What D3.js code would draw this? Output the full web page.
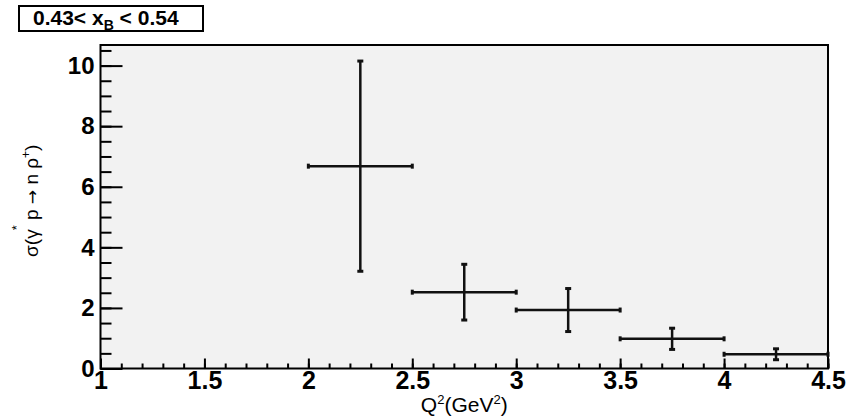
<!DOCTYPE html>
<html>
<head>
<meta charset="utf-8">
<script src="https://cdn.jsdelivr.net/npm/d3@7/dist/d3.min.js"></script>
<style>
  html, body { margin: 0; padding: 0; background: #fff; }
  svg { display: block; }
  text { font-family: "Liberation Sans", Arial, Helvetica, sans-serif; }
</style>
</head>
<body>
<svg id="chart" width="862" height="418"></svg>
<script>
// ---- data ----
const binCenters = [2.25, 2.75, 3.25, 3.75, 4.25];
const binHalfWidths = [0.25, 0.25, 0.25, 0.25, 0.25];
const sigmaValues = [6.68, 2.52, 1.93, 0.98, 0.47];
const sigmaErrors = [3.47, 0.92, 0.71, 0.35, 0.18];
const xDomain = [1, 4.5];
const yDomain = [0, 10.68];
const xMajorTicks = [1, 1.5, 2, 2.5, 3, 3.5, 4, 4.5];
const yMajorTicks = [0, 2, 4, 6, 8, 10];
const rangeLabel = ["0.43< x", "B", " < 0.54"];

const points = binCenters.map((xv, i) => ({
  x: xv, hw: binHalfWidths[i], y: sigmaValues[i], e: sigmaErrors[i]
}));

const svg = d3.select("#chart");
const mLeft = 100.5, mRight = 828, mTop = 45, mBottom = 368.5;

const x = d3.scaleLinear().domain(xDomain).range([mLeft, mRight]);
const y = d3.scaleLinear().domain(yDomain).range([mBottom, mTop]);

// frame background
svg.append("rect")
  .attr("x", mLeft).attr("y", mTop)
  .attr("width", mRight - mLeft).attr("height", mBottom - mTop)
  .attr("fill", "#f2f2f2");

// minor ticks
const xMinor = d3.range(0, 36).map(i => +(xDomain[0] + i * 0.1).toFixed(2));
const yMinor = d3.range(0, 22).map(i => i * 0.5).filter(v => v <= yDomain[1]);

const xMinorAxis = d3.axisBottom(x).tickValues(xMinor).tickFormat("").tickSizeInner(-5).tickSizeOuter(0);
const yMinorAxis = d3.axisLeft(y).tickValues(yMinor).tickFormat("").tickSizeInner(-11).tickSizeOuter(0);

const gxm = svg.append("g").attr("transform", `translate(0,${mBottom})`).call(xMinorAxis);
const gym = svg.append("g").attr("transform", `translate(${mLeft},0)`).call(yMinorAxis);

// major ticks + labels
const xAxis = d3.axisBottom(x).tickValues(xMajorTicks).tickFormat(d3.format("")).tickSizeInner(-10).tickSizeOuter(0).tickPadding(3);
const yAxis = d3.axisLeft(y).tickValues(yMajorTicks).tickFormat(d3.format("")).tickSizeInner(-22).tickSizeOuter(0).tickPadding(6);

const gx = svg.append("g").attr("transform", `translate(0,${mBottom})`).call(xAxis);
const gy = svg.append("g").attr("transform", `translate(${mLeft},0)`).call(yAxis);

[gxm, gym, gx, gy].forEach(g => {
  g.select(".domain").remove();
  g.selectAll(".tick line").attr("stroke", "#000").attr("stroke-width", 2);
});
gx.selectAll(".tick text")
  .attr("font-size", 25).attr("font-weight", "bold").attr("fill", "#000")
  .attr("font-family", "Liberation Sans, Arial, sans-serif");
gy.selectAll(".tick text")
  .attr("font-size", 24).attr("font-weight", "bold").attr("fill", "#000")
  .attr("font-family", "Liberation Sans, Arial, sans-serif");

// frame border
svg.append("rect")
  .attr("x", mLeft).attr("y", mTop)
  .attr("width", mRight - mLeft).attr("height", mBottom - mTop)
  .attr("fill", "none").attr("stroke", "#000").attr("stroke-width", 2);

// error bars
const gb = svg.append("g").attr("stroke", "#111").attr("fill", "none");
points.forEach(p => {
  gb.append("line")
    .attr("x1", x(p.x - p.hw)).attr("x2", x(p.x + p.hw))
    .attr("y1", y(p.y)).attr("y2", y(p.y)).attr("stroke-width", 2.5);
  gb.append("line")
    .attr("x1", x(p.x)).attr("x2", x(p.x))
    .attr("y1", y(p.y - p.e)).attr("y2", y(p.y + p.e)).attr("stroke-width", 2.5);
  [p.x - p.hw, p.x + p.hw].forEach(v => {
    gb.append("line")
      .attr("x1", x(v)).attr("x2", x(v))
      .attr("y1", y(p.y) - 2.5).attr("y2", y(p.y) + 2.5).attr("stroke-width", 3);
  });
  [p.y - p.e, p.y + p.e].forEach(v => {
    gb.append("line")
      .attr("x1", x(p.x) - 3).attr("x2", x(p.x) + 3)
      .attr("y1", y(v)).attr("y2", y(v)).attr("stroke-width", 3);
  });
});

// y axis title
const yt = svg.append("text")
  .attr("transform", `translate(38,${(mTop + mBottom) / 2 - 6}) rotate(-90)`)
  .attr("text-anchor", "middle")
  .attr("font-size", 19).attr("fill", "#000");
yt.append("tspan").text("σ(γ");
yt.append("tspan").attr("font-size", 13).attr("dy", -17).attr("dx", -1).text("*");
yt.append("tspan").attr("dy", 17).text(" p ");
yt.append("tspan").attr("font-family", "DejaVu Sans").attr("font-size", 17).text("→");
yt.append("tspan").text(" n ρ");
yt.append("tspan").attr("font-size", 12).attr("dy", -8).text("+");
yt.append("tspan").attr("dy", 8).text(")");

// x axis title
const xt = svg.append("text")
  .attr("x", (mLeft + mRight) / 2).attr("y", 412)
  .attr("text-anchor", "middle")
  .attr("font-size", 21).attr("fill", "#000");
xt.append("tspan").text("Q");
xt.append("tspan").attr("font-size", 13).attr("dy", -8).text("2");
xt.append("tspan").attr("dy", 8).text("(GeV");
xt.append("tspan").attr("font-size", 13).attr("dy", -8).text("2");
xt.append("tspan").attr("dy", 8).text(")");

// range label box
svg.append("rect")
  .attr("x", 19).attr("y", 6).attr("width", 184).attr("height", 25)
  .attr("fill", "#fff").attr("stroke", "#000").attr("stroke-width", 2);
const lt = svg.append("text")
  .attr("x", 33).attr("y", 24.5)
  .attr("font-size", 21).attr("font-weight", "bold").attr("fill", "#000");
lt.append("tspan").text(rangeLabel[0]);
lt.append("tspan").attr("font-size", 14).attr("dy", 5).text(rangeLabel[1]);
lt.append("tspan").attr("dy", -5).text(rangeLabel[2]);
</script>
</body>
</html>
